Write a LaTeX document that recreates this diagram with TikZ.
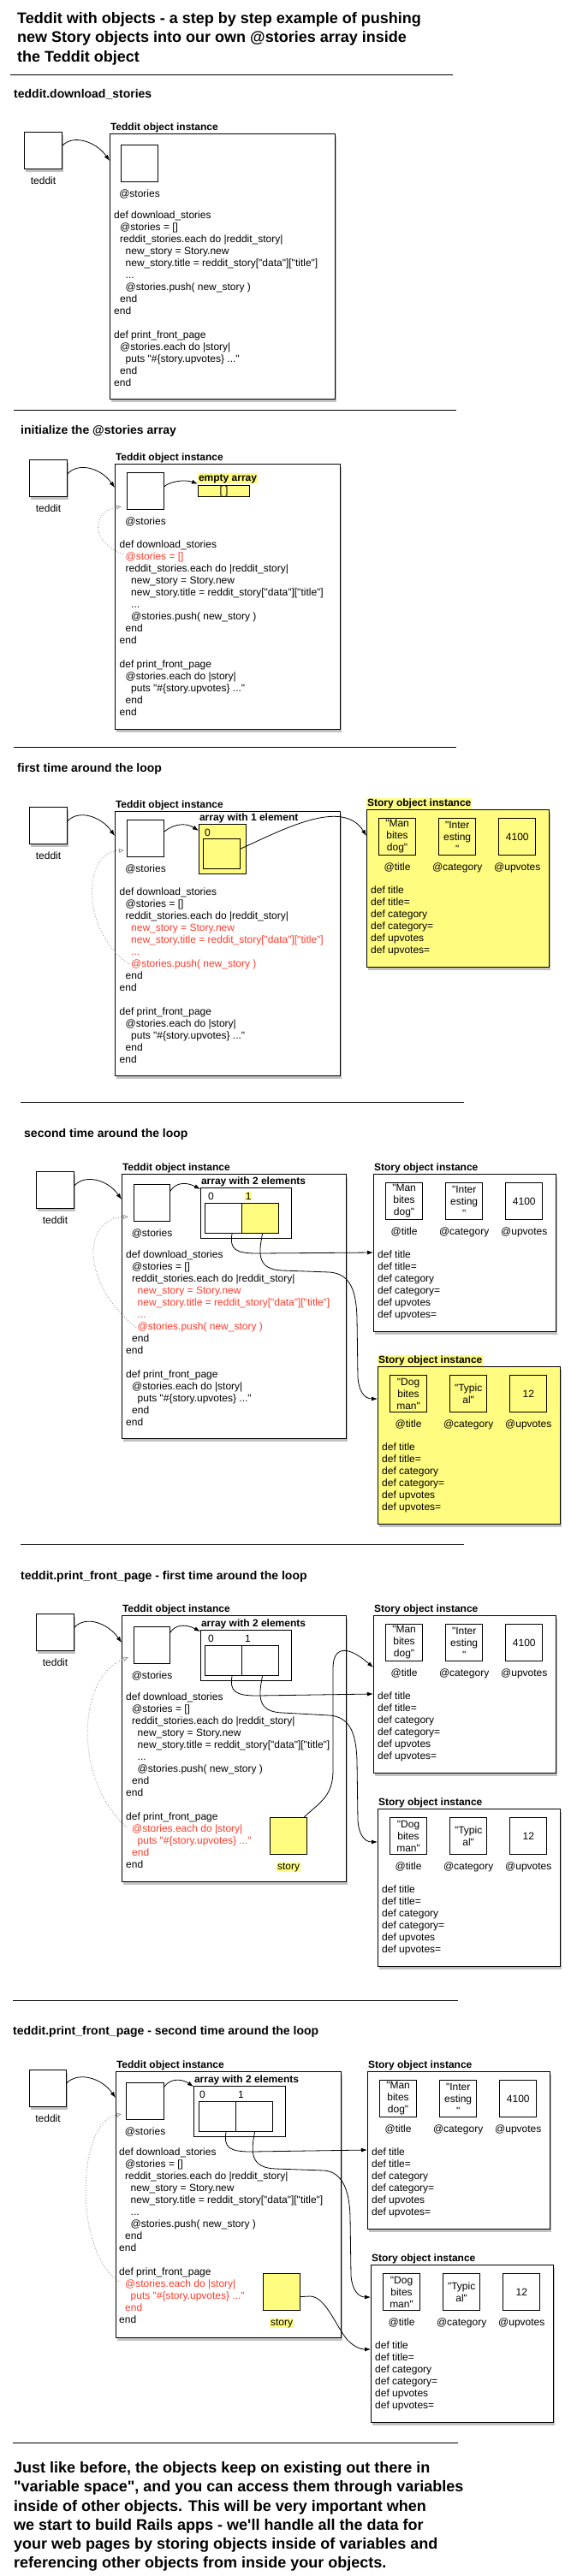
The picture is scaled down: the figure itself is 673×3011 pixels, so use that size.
\documentclass[tikz,border=0pt]{standalone}
\usepackage{fontspec}
\setmainfont{Liberation Sans}[Ligatures=TeXOff]
\usetikzlibrary{positioning, arrows.meta, shadows}

\definecolor{hl}{HTML}{FFFC7F}
\definecolor{codered}{HTML}{FF3B2A}
\newcommand{\codesize}{\fontsize{12}{14}\selectfont}
\newcommand{\headsize}{\fontsize{14}{17}\selectfont\bfseries}
\newcommand{\titlesize}{\fontsize{18}{22.2}\selectfont\bfseries}
\newcommand{\indA}{\hspace*{7pt}}
\newcommand{\indB}{\hspace*{13.5pt}}
\newcommand{\hot}[1]{\textcolor{codered}{#1}}

% one Story object: name, position, fill, label options, title, category, upvotes
\newcommand{\storyobj}[7]{%
  \node[obj, fill=#3, minimum width=213pt, minimum height=184pt, anchor=north west] (#1) at #2 {};
  \node[lbl, #4, anchor=base west] (#1-l) at ([yshift=3.5pt]#1.north west) {Story object instance};
  \node[slot, anchor=north west] (#1-t) at ([xshift=14pt,yshift=-10pt]#1.north west) {#5};
  \node[slot, right=26pt of #1-t] (#1-c) {#6};
  \node[slot, right=26pt of #1-c] (#1-u) {#7};
  \node[fld] (#1-tl) at ([yshift=-17pt]#1-t.south) {@title};
  \node[fld] (#1-cl) at ([yshift=-17pt]#1-c.south) {@category};
  \node[fld] (#1-ul) at ([yshift=-17pt]#1-u.south) {@upvotes};
  \node[code] (#1-m) at ([xshift=5pt,yshift=-88.5pt]#1.north west)
    {\rule{0pt}{10pt}def title\\def title=\\def category\\def category=\\def upvotes\\def upvotes=};%
}

\begin{document}
\begin{tikzpicture}[x=1pt, y=-1pt,
    obj/.style={draw, line width=1.1pt, fill=white,
      drop shadow={shadow xshift=1.5pt, shadow yshift=-3pt, opacity=0.4, fill=black!60}},
    tedbox/.style={obj, minimum width=44pt, minimum height=43pt, anchor=north west},
    tobjbox/.style={obj, minimum width=263pt, minimum height=310pt, anchor=north west},
    slot/.style={draw, line width=1.1pt, minimum width=43pt, minimum height=43pt, inner sep=0,
      align=center, font=\codesize},
    cell/.style={draw, line width=1.1pt, fill=white, minimum width=43pt, minimum height=35pt,
      inner sep=0, anchor=north west},
    arrbox/.style={draw, line width=1.1pt, fill=white, inner sep=0, anchor=north west},
    code/.style={font=\codesize, align=left, anchor=north west, inner sep=0},
    fld/.style={font=\codesize, inner sep=0, anchor=base},
    lbl/.style={font=\codesize\bfseries, inner sep=0.8pt},
    hd/.style={font=\headsize, anchor=base west, inner sep=0},
    titlenode/.style={font=\titlesize, align=left, anchor=north west, inner sep=0},
    sep/.style={line width=0.9pt},
    ptr/.style={-{Latex[length=7pt, width=5pt]}, line width=0.8pt},
    back/.style={-{Triangle[open, length=6pt, width=5pt]}, dash pattern=on 1pt off 2pt,
      draw=gray!80, line width=0.8pt}]

  \useasboundingbox (0,0) rectangle (673,3011);
  \fill[white] (0,0) rectangle (673,3011);

  \node[titlenode] (title) at (20,13.5) {\rule{0pt}{14pt}Teddit with objects - a step by step example of pushing\\
    new Story objects into our own @stories array inside\\the Teddit object};
  \draw[sep] (12,87) -- (529,87);

  % teddit.download_stories
  \node[hd] (hd1) at (16,114) {teddit.download\_stories};
  \node[tedbox] (ted1) at (28,154) {};
  \node[fld] (ted1l) at ([yshift=-17.5pt]ted1.south) {teddit};
  \node[tobjbox] (tobj1) at (128,156) {};
  \node[lbl, anchor=base west] (tobj1l) at ([yshift=3.5pt]tobj1.north west) {Teddit object instance};
  \node[slot, anchor=north west] (st1) at (141,169) {};
  \node[fld] (st1l) at ([yshift=-17pt]st1.south) {@stories};
  \node[code] (code1) at (133,245.5) {\rule{0pt}{10pt}def download\_stories\\
    \indA @stories = []\\
    \indA reddit\_stories.each do |reddit\_story|\\
    \indB new\_story = Story.new\\
    \indB new\_story.title = reddit\_story["data"]["title"]\\
    \indB ...\\
    \indB @stories.push( new\_story )\\
    \indA end\\
    end\\[14pt]
    def print\_front\_page\\
    \indA @stories.each do |story|\\
    \indB puts "\#\{story.upvotes\} ..."\\
    \indA end\\
    end};
  \draw[ptr] ([yshift=6pt]ted1.east) .. controls (85,157) and (112,165) .. ([yshift=-32pt]tobj1.north west);
  \draw[sep] (16,479) -- (533,479);

  % initialize the @stories array
  \node[hd] (hd2) at (24,507) {initialize the @stories array};
  \node[tedbox] (ted2) at (34,537) {};
  \node[fld] (ted2l) at ([yshift=-17.5pt]ted2.south) {teddit};
  \node[tobjbox] (tobj2) at (134,542) {};
  \node[lbl, anchor=base west] (tobj2l) at ([yshift=3.5pt]tobj2.north west) {Teddit object instance};
  \node[slot, anchor=north west] (st2) at (148,552) {};
  \node[fld] (st2l) at ([yshift=-17pt]st2.south) {@stories};
  \node[arrbox, fill=hl, minimum width=60pt, minimum height=13pt, font=\codesize] (arr2) at (231,567) {[ ]};
  \node[lbl, fill=hl, anchor=south west] (arr2l) at ([yshift=1.5pt]arr2.north west) {empty array};
  \node[code] (code2) at (139.5,630.5) {\rule{0pt}{10pt}def download\_stories\\
    \indA \hot{@stories = []}\\
    \indA reddit\_stories.each do |reddit\_story|\\
    \indB new\_story = Story.new\\
    \indB new\_story.title = reddit\_story["data"]["title"]\\
    \indB ...\\
    \indB @stories.push( new\_story )\\
    \indA end\\
    end\\[14pt]
    def print\_front\_page\\
    \indA @stories.each do |story|\\
    \indB puts "\#\{story.upvotes\} ..."\\
    \indA end\\
    end};
  \coordinate (bk2) at (144,648);
  \draw[ptr] ([yshift=5.5pt]ted2.east) .. controls (92,540) and (118,547) .. ([yshift=-28pt]tobj2.north west);
  \draw[ptr] ([yshift=5.5pt]st2.east) .. controls (198,563) and (215,560) .. (arr2l.south west);
  \draw[back] (bk2) .. controls (100,630) and (112,596) .. ([xshift=-6pt,yshift=4pt]st2.south west);
  \draw[sep] (16,873) -- (533,873);

  % first time around the loop
  \node[hd] (hd3) at (20,902) {first time around the loop};
  \node[tedbox] (ted3) at (34,943) {};
  \node[fld] (ted3l) at ([yshift=-17.5pt]ted3.south) {teddit};
  \node[tobjbox, minimum height=309pt] (tobj3) at (134,948) {};
  \node[lbl, anchor=base west] (tobj3l) at ([yshift=3.5pt]tobj3.north west) {Teddit object instance};
  \node[slot, anchor=north west] (st3) at (148,958) {};
  \node[fld] (st3l) at ([yshift=-17pt]st3.south) {@stories};
  \node[arrbox, fill=hl, minimum width=55pt, minimum height=58pt] (arr3) at (232,963) {};
  \node[lbl, anchor=base west] (arr3l) at ([yshift=3.5pt]arr3.north west) {array with 1 element};
  \node[fld, anchor=base west] (ix30) at (239,977) {0};
  \node[cell, fill=hl] (cell30) at (237,980) {};
  \node[code] (code3) at (139.5,1036.5) {\rule{0pt}{10pt}def download\_stories\\
    \indA @stories = []\\
    \indA reddit\_stories.each do |reddit\_story|\\
    \indB \hot{new\_story = Story.new}\\
    \indB \hot{new\_story.title = reddit\_story["data"]["title"]}\\
    \indB \hot{...}\\
    \indB \hot{@stories.push( new\_story )}\\
    \indA end\\
    end\\[14pt]
    def print\_front\_page\\
    \indA @stories.each do |story|\\
    \indB puts "\#\{story.upvotes\} ..."\\
    \indA end\\
    end};
  \storyobj{story3}{(428,946)}{hl}{fill=hl}{"Man\\bites\\dog"}{"Inter\\esting\\"}{4100}
  \coordinate (bk3) at (151,1127);
  \draw[ptr] ([yshift=5.5pt]ted3.east) .. controls (92,946) and (118,954) .. ([yshift=-29pt]tobj3.north west);
  \draw[ptr] ([yshift=-14pt]st3.north east) .. controls (200,965) and (215,960) .. ([yshift=-8pt]arr3.north west);
  \draw[ptr] ([yshift=6pt]cell30.east) .. controls (330,970) and (400,932) .. ([yshift=-31pt]story3.north west);
  \draw[back] (bk3) .. controls (95,1090) and (95,995) .. ([xshift=-3pt,yshift=8pt]st3.south west);
  \draw[sep] (24,1288) -- (542,1288);

  % second time around the loop
  \node[hd] (hd4) at (28,1329) {second time around the loop};
  \node[tedbox] (ted4) at (42,1369) {};
  \node[fld] (ted4l) at ([yshift=-17.5pt]ted4.south) {teddit};
  \node[tobjbox, minimum width=262pt, minimum height=309pt] (tobj4) at (142,1372) {};
  \node[lbl, anchor=base west] (tobj4l) at ([yshift=3.5pt]tobj4.north west) {Teddit object instance};
  \node[slot, anchor=north west, minimum width=42pt] (st4) at (156,1384) {};
  \node[fld] (st4l) at ([yshift=-17pt]st4.south) {@stories};
  \node[arrbox, minimum width=106pt, minimum height=59pt] (arr4) at (234,1388) {};
  \node[lbl, anchor=base west] (arr4l) at ([yshift=3.5pt]arr4.north west) {array with 2 elements};
  \node[fld, anchor=base west] (ix40) at (243,1402) {0};
  \node[fld, anchor=base west, fill=hl, inner sep=0.6pt] (ix41) at (286,1402) {1};
  \node[cell] (cell40) at (239,1406) {};
  \node[cell, fill=hl] (cell41) at (282,1406) {};
  \node[code] (code4) at (147,1460.5) {\rule{0pt}{10pt}def download\_stories\\
    \indA @stories = []\\
    \indA reddit\_stories.each do |reddit\_story|\\
    \indB \hot{new\_story = Story.new}\\
    \indB \hot{new\_story.title = reddit\_story["data"]["title"]}\\
    \indB \hot{...}\\
    \indB \hot{@stories.push( new\_story )}\\
    \indA end\\
    end\\[14pt]
    def print\_front\_page\\
    \indA @stories.each do |story|\\
    \indB puts "\#\{story.upvotes\} ..."\\
    \indA end\\
    end};
  \storyobj{story41}{(436,1372)}{white}{}{"Man\\bites\\dog"}{"Inter\\esting\\"}{4100}
  \storyobj{story42}{(441,1597)}{hl}{fill=hl}{"Dog\\bites\\man"}{"Typic\\al"}{12}
  \coordinate (bk4) at (159,1552);
  \draw[ptr] ([yshift=5.5pt]ted4.east) .. controls (100,1372) and (126,1379) .. ([yshift=-30pt]tobj4.north west);
  \draw[ptr] ([yshift=-8pt]st4.north east) .. controls (204,1384) and (215,1380) .. ([yshift=-2pt]arr4.north west);
  \draw[ptr] ([xshift=10pt]cell40.south) .. controls (268,1460) and (275,1465) .. (300,1465)
    -- ([yshift=-92pt]story41.north west);
  \draw[ptr] ([xshift=2.5pt]cell41.south) .. controls (302,1465) and (300,1484) .. (330,1485)
    -- (385,1487) .. controls (410,1489) and (416,1510) .. (417,1540)
    -- (418,1610) .. controls (419,1625) and (425,1635) .. ([yshift=-38pt]story42.north west);
  \draw[back] (bk4) .. controls (95,1500) and (95,1425) .. ([xshift=-6pt,yshift=6pt]st4.south west);
  \draw[sep] (24,1805) -- (542,1805);

  % teddit.print_front_page - first time around the loop
  \node[hd] (hd5) at (24,1846) {teddit.print\_front\_page - first time around the loop};
  \node[tedbox] (ted5) at (42,1886) {};
  \node[fld] (ted5l) at ([yshift=-17.5pt]ted5.south) {teddit};
  \node[tobjbox, minimum width=262pt, minimum height=311pt] (tobj5) at (142,1888) {};
  \node[lbl, anchor=base west] (tobj5l) at ([yshift=3.5pt]tobj5.north west) {Teddit object instance};
  \node[slot, anchor=north west, minimum width=42pt] (st5) at (156,1901) {};
  \node[fld] (st5l) at ([yshift=-17pt]st5.south) {@stories};
  \node[arrbox, minimum width=106pt, minimum height=59pt] (arr5) at (234,1905) {};
  \node[lbl, anchor=base west] (arr5l) at ([yshift=3.5pt]arr5.north west) {array with 2 elements};
  \node[fld, anchor=base west] (ix50) at (243,1919) {0};
  \node[fld, anchor=base west] (ix51) at (286,1919) {1};
  \node[cell] (cell50) at (239,1923) {};
  \node[cell] (cell51) at (282,1923) {};
  \node[code] (code5) at (147,1977.5) {\rule{0pt}{10pt}def download\_stories\\
    \indA @stories = []\\
    \indA reddit\_stories.each do |reddit\_story|\\
    \indB new\_story = Story.new\\
    \indB new\_story.title = reddit\_story["data"]["title"]\\
    \indB ...\\
    \indB @stories.push( new\_story )\\
    \indA end\\
    end\\[14pt]
    def print\_front\_page\\
    \indA \hot{@stories.each do |story|}\\
    \indB \hot{puts "\#\{story.upvotes\} ..."}\\
    \indA \hot{end}\\
    end};
  \node[slot, anchor=north west, fill=hl] (var5) at (315,2124) {};
  \node[fld, fill=hl, inner sep=0.6pt] (var5l) at ([yshift=-17pt]var5.south) {story};
  \storyobj{story51}{(436,1888)}{white}{}{"Man\\bites\\dog"}{"Inter\\esting\\"}{4100}
  \storyobj{story52}{(441,2114)}{white}{}{"Dog\\bites\\man"}{"Typic\\al"}{12}
  \coordinate (bk5) at (148,2136);
  \draw[ptr] ([yshift=6pt]ted5.east) .. controls (100,1888) and (126,1897) .. ([yshift=-32pt]tobj5.north west);
  \draw[ptr] ([yshift=-7pt]st5.north east) .. controls (204,1900) and (215,1897) .. ([yshift=-2pt]arr5.north west);
  \draw[ptr] ([xshift=10pt]cell50.south) .. controls (268,1977) and (275,1982) .. (300,1982)
    -- ([yshift=-92pt]story51.north west);
  \draw[ptr] ([xshift=2.5pt]cell51.south) .. controls (302,1982) and (300,2001) .. (330,2002)
    -- (385,2005) .. controls (410,2007) and (416,2028) .. (417,2058)
    -- (418,2128) .. controls (419,2143) and (425,2153) .. ([yshift=-39pt]story52.north west);
  \draw[ptr] ([xshift=-4pt]var5.north east) .. controls (372,2108) and (389,2100) .. (389,2070)
    -- (389,1950) .. controls (389,1925) and (405,1922) .. ([yshift=-61pt]story51.north west);
  \draw[back] (bk5) .. controls (85,2080) and (90,1960) .. ([xshift=-6pt,yshift=8pt]st5.south west);
  \draw[sep] (15,2338) -- (535,2338);

  % teddit.print_front_page - second time around the loop
  \node[hd] (hd6) at (15,2378) {teddit.print\_front\_page - second time around the loop};
  \node[tedbox, minimum width=43pt] (ted6) at (34,2419) {};
  \node[fld] (ted6l) at ([yshift=-17.5pt]ted6.south) {teddit};
  \node[tobjbox, minimum height=311pt] (tobj6) at (135,2421) {};
  \node[lbl, anchor=base west] (tobj6l) at ([yshift=3.5pt]tobj6.north west) {Teddit object instance};
  \node[slot, anchor=north west, minimum width=44pt] (st6) at (147,2434) {};
  \node[fld] (st6l) at ([yshift=-17pt]st6.south) {@stories};
  \node[arrbox, minimum width=107pt, minimum height=59pt] (arr6) at (226,2438) {};
  \node[lbl, anchor=base west] (arr6l) at ([yshift=3.5pt]arr6.north west) {array with 2 elements};
  \node[fld, anchor=base west] (ix60) at (233,2452) {0};
  \node[fld, anchor=base west] (ix61) at (278,2452) {1};
  \node[cell] (cell60) at (232,2456) {};
  \node[cell] (cell61) at (275,2456) {};
  \node[code] (code6) at (139,2509.5) {\rule{0pt}{10pt}def download\_stories\\
    \indA @stories = []\\
    \indA reddit\_stories.each do |reddit\_story|\\
    \indB new\_story = Story.new\\
    \indB new\_story.title = reddit\_story["data"]["title"]\\
    \indB ...\\
    \indB @stories.push( new\_story )\\
    \indA end\\
    end\\[14pt]
    def print\_front\_page\\
    \indA \hot{@stories.each do |story|}\\
    \indB \hot{puts "\#\{story.upvotes\} ..."}\\
    \indA \hot{end}\\
    end};
  \node[slot, anchor=north west, fill=hl] (var6) at (307,2657) {};
  \node[fld, fill=hl, inner sep=0.6pt] (var6l) at ([yshift=-17pt]var6.south) {story};
  \storyobj{story61}{(429,2421)}{white}{}{"Man\\bites\\dog"}{"Inter\\esting\\"}{4100}
  \storyobj{story62}{(433,2647)}{white}{}{"Dog\\bites\\man"}{"Typic\\al"}{12}
  \coordinate (bk6) at (139,2667);
  \draw[ptr] ([yshift=6.5pt]ted6.east) .. controls (92,2421) and (119,2429) .. ([yshift=-31pt]tobj6.north west);
  \draw[ptr] ([yshift=-5pt]st6.north east) .. controls (197,2431) and (210,2428) .. ([yshift=-1pt]arr6.north west);
  \draw[ptr] ([xshift=10pt]cell60.south) .. controls (261,2510) and (268,2515) .. (293,2515)
    -- ([yshift=-92pt]story61.north west);
  \draw[ptr] ([xshift=0.5pt]cell61.south) .. controls (293,2515) and (292,2534) .. (322,2535)
    -- (379,2537) .. controls (400,2539) and (408,2560) .. (409,2590)
    -- (410,2660) .. controls (411,2675) and (418,2685) .. ([yshift=-38pt]story62.north west);
  \draw[ptr] ([yshift=-5.5pt]var6.east) -- (362,2684) .. controls (380,2684) and (392,2718) .. (405,2734)
    .. controls (412,2742) and (420,2746) .. ([yshift=-99pt]story62.north west);
  \draw[back] (bk6) .. controls (85,2630) and (90,2480) .. ([xshift=-5pt,yshift=7pt]st6.south west);
  \draw[sep] (15,2855) -- (535,2855);

  \node[titlenode] (footer) at (16,2876.5) {\rule{0pt}{14pt}Just like before, the objects keep on existing out there in\\
    "variable space", and you can access them through variables\\
    inside of other objects. This will be very important when\\
    we start to build Rails apps - we'll handle all the data for\\
    your web pages by storing objects inside of variables and\\
    referencing other objects from inside your objects.};
\end{tikzpicture}
\end{document}
